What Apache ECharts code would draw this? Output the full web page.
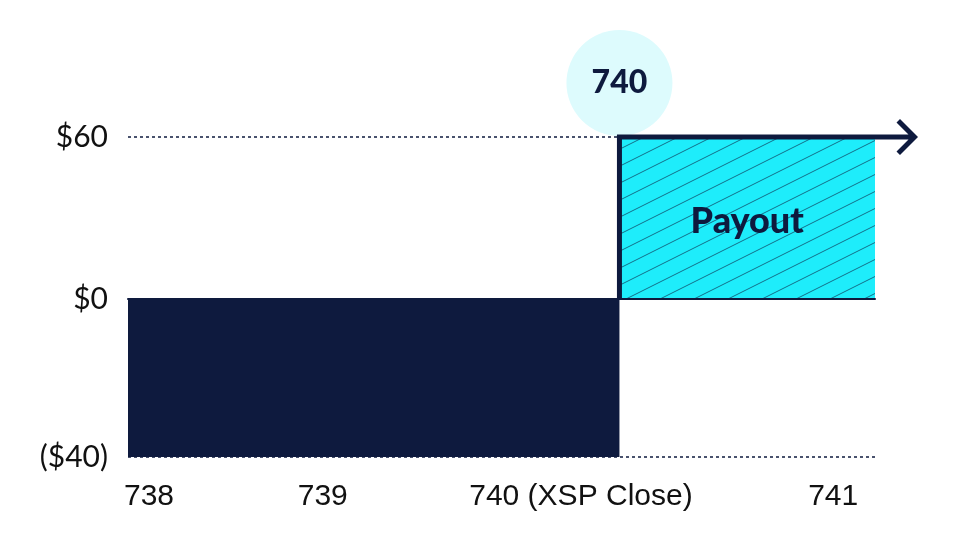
<!DOCTYPE html>
<html>
<head>
<meta charset="utf-8">
<script src="https://cdn.jsdelivr.net/npm/echarts@6/dist/echarts.min.js"></script>
<style>
html,body{margin:0;padding:0;background:#fff;}
#chart{width:960px;height:550px;}
</style>
</head>
<body>
<div id="chart"></div>
<script>
// ---- data ----
const xTicks = [738, 739, 740, 741];
const xTickLabels = ['738', '739', '740 (XSP Close)', '741'];
const xMin = 738;
const xMax = 741.04;
const strike = 740;
const lossRange = [738, 740];
const lossValue = -40;
const payoutRange = [740, 741.04];
const payoutValue = 60;
const topTicks = [0, 60];
const bottomTicks = [-40];
const strikeLabel = '740';
const payoutLabel = 'Payout';

// ---- styles ----
const NAVY = '#0E1A3E';
const CYAN = '#1EEDFB';
const CIRCLE = '#DDFBFD';

// hatch pattern
const tile = document.createElement('canvas');
tile.width = 34; tile.height = 17;
const tc = tile.getContext('2d');
tc.fillStyle = CYAN;
tc.fillRect(0, 0, 34, 17);
tc.strokeStyle = 'rgba(14,26,62,0.6)';
tc.lineWidth = 1;
for (let k = -1; k <= 1; k++) {
  tc.beginPath();
  tc.moveTo(-34, 34 + k * 17);
  tc.lineTo(68, -17 + k * 17);
  tc.stroke();
}

const labelShift = { '738': [0, 0, 0, 42], '739': [0, 102, 0, 0], '740 (XSP Close)': [0, 77, 0, 0], '741': [0, 64, 0, 0] };
const rich = {};
xTickLabels.forEach((t, i) => {
  rich['l' + i] = { padding: labelShift[t], fontFamily: 'Liberation Sans', fontSize: 30, color: '#111' };
});

const chart = echarts.init(document.getElementById('chart'));
const xCommon = { type: 'value', min: xMin, max: xMax, interval: 1 };
chart.setOption({
  animation: false,
  grid: [
    { left: 128, width: 747, top: 137, height: 162 },
    { left: 128, width: 747, top: 299, height: 158 }
  ],
  xAxis: [
    Object.assign({}, xCommon, {
      gridIndex: 0, z: 3,
      axisLine: { show: true, onZero: false, lineStyle: { color: NAVY, width: 2 } },
      axisTick: { show: false }, axisLabel: { show: false }, splitLine: { show: false }
    }),
    Object.assign({}, xCommon, {
      gridIndex: 1,
      axisLine: { show: false }, axisTick: { show: false }, splitLine: { show: false },
      axisLabel: {
        margin: 25,
        showMinLabel: true, showMaxLabel: false,
        formatter: function (v) {
          const i = xTicks.findIndex(t => Math.abs(t - v) < 1e-6);
          return i < 0 ? '' : '{l' + i + '|' + xTickLabels[i] + '}';
        },
        rich: rich
      }
    })
  ],
  yAxis: [
    {
      type: 'value', gridIndex: 0, min: topTicks[0], max: topTicks[1], interval: topTicks[1] - topTicks[0],
      axisLine: { show: false }, axisTick: { show: false },
      splitLine: { show: true, lineStyle: { color: NAVY, width: 1.5, type: [3, 3] } },
      axisLabel: {
        margin: 20, fontFamily: 'Lato', fontSize: 30, color: '#111',
        formatter: v => '$' + v
      }
    },
    {
      type: 'value', gridIndex: 1, min: bottomTicks[0], max: 0, interval: -bottomTicks[0],
      axisLine: { show: false }, axisTick: { show: false },
      splitLine: { show: true, lineStyle: { color: NAVY, width: 1.5, type: [3, 3] } },
      axisLabel: {
        margin: 20, fontFamily: 'Lato', fontSize: 30, color: '#111',
        formatter: v => v < 0 ? '($' + (-v) + ')' : ''
      }
    }
  ],
  series: [
    {
      name: 'loss', type: 'line', xAxisIndex: 1, yAxisIndex: 1,
      data: [[lossRange[0], lossValue], [lossRange[1], lossValue]],
      symbol: 'none', lineStyle: { width: 0 },
      areaStyle: { color: NAVY, opacity: 1 }, z: 2
    },
    {
      name: 'strike', type: 'scatter', xAxisIndex: 0, yAxisIndex: 0,
      data: [[strike, payoutValue]],
      symbol: 'circle', symbolSize: 106, symbolOffset: [0, -54],
      itemStyle: { color: CIRCLE, opacity: 1 }, clip: false, z: 1,
      label: {
        show: true, position: 'inside', formatter: strikeLabel,
        fontFamily: 'Lato', fontWeight: 900, fontSize: 32, color: NAVY
      }
    },
    {
      name: 'payoff', type: 'line', xAxisIndex: 0, yAxisIndex: 0,
      clip: false, z: 4,
      symbol: 'none',
      data: [
        [strike, 0],
        [strike, payoutValue],
        {
          value: [payoutRange[1], payoutValue],
          symbol: 'path://M0,15.5 L40,15.5 L40,20.5 L0,20.5 Z M25,0 L43,18 L25,36 L21.5,32.5 L36,18 L21.5,3.5 Z',
          symbolSize: [43, 36], symbolOffset: [21.5, 0],
          itemStyle: { color: NAVY, opacity: 1 }
        }
      ],
      lineStyle: { color: NAVY, width: 5, cap: 'butt', join: 'miter' },
      markArea: {
        silent: true,
        itemStyle: { color: { image: tile, repeat: 'repeat' }, opacity: 1 },
        label: {
          show: true, position: 'inside', formatter: payoutLabel, offset: [0, 3],
          fontFamily: 'Lato', fontWeight: 900, fontSize: 36, color: NAVY
        },
        data: [[{ coord: [payoutRange[0], 0] }, { coord: [payoutRange[1], payoutValue] }]]
      }
    }
  ]
});
</script>
</body>
</html>
